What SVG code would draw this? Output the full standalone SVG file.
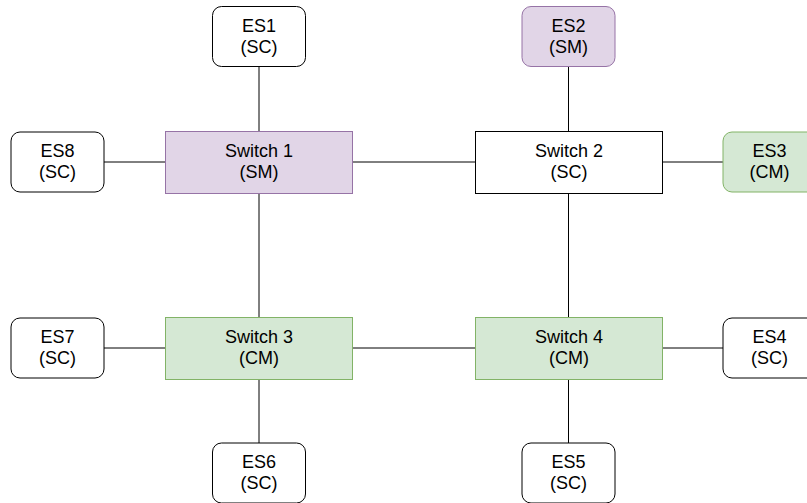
<svg xmlns="http://www.w3.org/2000/svg" width="807" height="503" viewBox="0 0 807 503">
  <style>
    .es { stroke: #000; stroke-width: 1; fill: #fff; }
    .sw { stroke: #000; stroke-width: 1; fill: #fff; }
    .sm { fill: #e1d5e7; stroke: #9673a6; }
    .cm { fill: #d5e8d4; stroke: #82b366; }
    .lbl { font-family: "Liberation Sans", Arial, sans-serif; font-size: 18px; fill: #000; text-anchor: middle; }
    .link { stroke: #000; stroke-width: 1; fill: none; }
  </style>
  <rect width="807" height="503" fill="#fff"/>

  <g id="connectors">
    <line class="link" x1="259" y1="66" x2="259" y2="131"/>
    <line class="link" x1="104" y1="162" x2="165" y2="162"/>
    <line class="link" x1="352" y1="162" x2="475" y2="162"/>
    <line class="link" x1="568.5" y1="67" x2="568.5" y2="131"/>
    <line class="link" x1="662" y1="162" x2="723" y2="162"/>
    <line class="link" x1="259" y1="193" x2="259" y2="317"/>
    <line class="link" x1="568.5" y1="193" x2="568.5" y2="317"/>
    <line class="link" x1="104" y1="348" x2="165" y2="348"/>
    <line class="link" x1="352" y1="348" x2="475" y2="348"/>
    <line class="link" x1="662" y1="348" x2="723" y2="348"/>
    <line class="link" x1="259" y1="379" x2="259" y2="443"/>
    <line class="link" x1="568.5" y1="379" x2="568.5" y2="443"/>
  </g>

  <g id="es1">
    <rect class="es" x="212.5" y="6.5" width="93" height="60" rx="9"/>
    <text class="lbl" x="259" y="31.5">ES1</text>
    <text class="lbl" x="259" y="52.5">(SC)</text>
  </g>
  <g id="es2">
    <rect class="es sm" x="522" y="6.5" width="93" height="60" rx="9"/>
    <text class="lbl" x="568.5" y="31.5">ES2</text>
    <text class="lbl" x="568.5" y="52.5">(SM)</text>
  </g>
  <g id="es3">
    <rect class="es cm" x="723" y="132" width="93" height="60" rx="9"/>
    <text class="lbl" x="769.5" y="157">ES3</text>
    <text class="lbl" x="769.5" y="178">(CM)</text>
  </g>
  <g id="es4">
    <rect class="es" x="723" y="318" width="93" height="60" rx="9"/>
    <text class="lbl" x="769.5" y="343">ES4</text>
    <text class="lbl" x="769.5" y="364">(SC)</text>
  </g>
  <g id="es5">
    <rect class="es" x="522" y="443" width="93" height="60" rx="9"/>
    <text class="lbl" x="568.5" y="468">ES5</text>
    <text class="lbl" x="568.5" y="489">(SC)</text>
  </g>
  <g id="es6">
    <rect class="es" x="212.5" y="443" width="93" height="60" rx="9"/>
    <text class="lbl" x="259" y="468">ES6</text>
    <text class="lbl" x="259" y="489">(SC)</text>
  </g>
  <g id="es7">
    <rect class="es" x="11" y="318" width="93" height="60" rx="9"/>
    <text class="lbl" x="57.5" y="343">ES7</text>
    <text class="lbl" x="57.5" y="364">(SC)</text>
  </g>
  <g id="es8">
    <rect class="es" x="11" y="132" width="93" height="60" rx="9"/>
    <text class="lbl" x="57.5" y="157">ES8</text>
    <text class="lbl" x="57.5" y="178">(SC)</text>
  </g>

  <g id="switch1">
    <rect class="sw sm" x="165.5" y="131.5" width="187" height="62"/>
    <text class="lbl" x="259" y="157">Switch 1</text>
    <text class="lbl" x="259" y="178">(SM)</text>
  </g>
  <g id="switch2">
    <rect class="sw" x="475.5" y="131.5" width="187" height="62"/>
    <text class="lbl" x="569" y="157">Switch 2</text>
    <text class="lbl" x="569" y="178">(SC)</text>
  </g>
  <g id="switch3">
    <rect class="sw cm" x="165.5" y="317.5" width="187" height="62"/>
    <text class="lbl" x="259" y="343">Switch 3</text>
    <text class="lbl" x="259" y="364">(CM)</text>
  </g>
  <g id="switch4">
    <rect class="sw cm" x="475.5" y="317.5" width="187" height="62"/>
    <text class="lbl" x="569" y="343">Switch 4</text>
    <text class="lbl" x="569" y="364">(CM)</text>
  </g>
</svg>
